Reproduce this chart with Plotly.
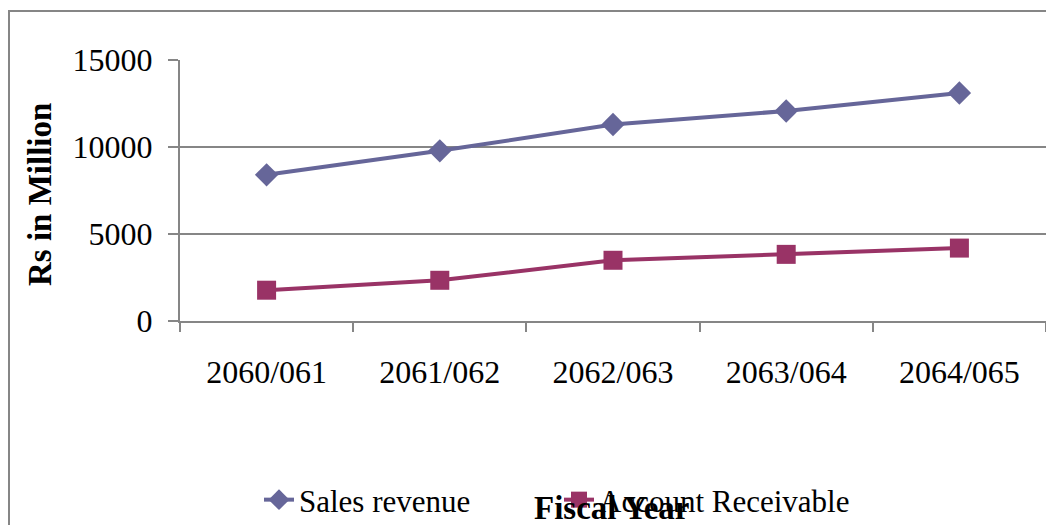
import plotly.graph_objects as go

years = ["2060/061", "2061/062", "2062/063", "2063/064", "2064/065"]
sales_revenue = [8400, 9780, 11290, 12070, 13100]
account_receivable = [1770, 2340, 3490, 3830, 4190]

FONT = "Liberation Serif, Times New Roman, serif"
GRID = "#868686"

OFF = 8  # default page body margin (top/left)
W, H = 1054 - OFF, 525 - OFF
ML, MT = 180 - OFF, 60 - OFF
MR = 1054 - 1046
MB = 525 - 321
PW, PH = W - ML - MR, H - MT - MB

def px(x):  # page pixel -> paper x
    return (x - OFF - ML) / PW

def py(y):  # page pixel -> paper y
    return (H - MB - (y - OFF)) / PH

fig = go.Figure()
fig.add_trace(go.Scatter(
    x=years, y=sales_revenue, name="Sales revenue", mode="lines+markers",
    line=dict(color="#666699", width=4),
    marker=dict(symbol="diamond", size=18, color="#666699"),
))
fig.add_trace(go.Scatter(
    x=years, y=account_receivable, name="Account Receivable", mode="lines+markers",
    line=dict(color="#993366", width=4),
    marker=dict(symbol="square", size=19, color="#993366"),
))

fig.update_layout(
    width=W, height=H,
    margin=dict(l=ML, r=MR, t=MT, b=MB, pad=0, autoexpand=False),
    paper_bgcolor="white", plot_bgcolor="white",
    font=dict(family=FONT, size=31, color="black"),
    showlegend=True,
    legend=dict(orientation="h", x=px(259), xanchor="left", y=py(500), yanchor="middle",
                font=dict(family=FONT, size=31, color="black"),
                bgcolor="rgba(0,0,0,0)", entrywidth=255, tracegroupgap=0),
    xaxis=dict(type="category", range=[-0.5, 4.5], showgrid=False, automargin=False,
               showline=True, linecolor=GRID, linewidth=2,
               ticks="outside", tickson="boundaries", ticklen=9, tickwidth=2, tickcolor=GRID,
               tickfont=dict(family=FONT, size=32, color="black"), ticklabelstandoff=22,
               zeroline=False),
    yaxis=dict(range=[0, 15000], tickmode="array", tickvals=[0, 5000, 10000, 15000],
               ticktext=["0", "5000", "10000", "15000"], automargin=False,
               showgrid=True, gridcolor=GRID, gridwidth=2,
               showline=True, linecolor=GRID, linewidth=2,
               ticks="outside", ticklen=10, tickwidth=2, tickcolor=GRID,
               tickfont=dict(family=FONT, size=32, color="black"), ticklabelstandoff=9,
               zeroline=False),
    shapes=[dict(type="rect", xref="paper", yref="paper",
                 x0=px(9), x1=px(1070), y0=py(560), y1=py(11),
                 line=dict(color=GRID, width=2), fillcolor="rgba(0,0,0,0)", layer="below")],
    annotations=[
        dict(text="<b>Rs in Million</b>", xref="paper", yref="paper", x=px(40), y=py(195),
             textangle=-90, showarrow=False, xanchor="center", yanchor="middle",
             font=dict(family=FONT, size=33, color="black")),
        dict(text="<b>Fiscal Year</b>", xref="paper", yref="paper", x=px(611), y=py(508),
             showarrow=False, xanchor="center", yanchor="middle",
             font=dict(family=FONT, size=33, color="black")),
    ],
)

fig.write_html("out.html")
